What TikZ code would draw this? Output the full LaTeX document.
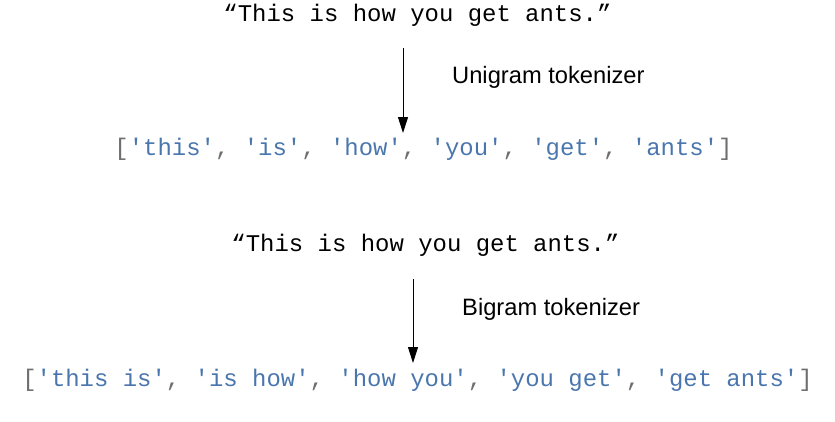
\documentclass[tikz,border=0pt]{standalone}
\usepackage{fontspec}
\setmainfont{Liberation Sans}
\newfontfamily\codefont{Liberation Mono}
\usepackage{xcolor}
\usepackage{tikz}
\usetikzlibrary{arrows.meta,positioning}
\definecolor{strblue}{HTML}{4A76AD}
\definecolor{puncgray}{HTML}{6E6E6E}
\newcommand{\tk}[1]{\textcolor{strblue}{'#1'}}
\newcommand{\pc}[1]{\textcolor{puncgray}{#1}}

\begin{document}
\begin{tikzpicture}[x=1pt,y=-1pt,
  code/.style={inner sep=0pt,anchor=base,font=\codefont\fontsize{23.95}{28}\selectfont},
  lbl/.style={inner sep=0pt,anchor=base west,font=\fontsize{23.7}{28}\selectfont},
  tokarrow/.style={line width=1pt,-{Triangle[length=16pt,width=10pt]}}]
\useasboundingbox (0,0) rectangle (835,421);
% unigram
\node[code] (sent1) at (417.5,21) {“This is how you get ants.”};
\node[lbl] (uni) at (452,83) {Unigram tokenizer};
\node[code] (list1) at (423.5,155) {\pc{[}\tk{this}\pc{, }\tk{is}\pc{, }\tk{how}\pc{, }\tk{you}\pc{, }\tk{get}\pc{, }\tk{ants}\pc{]}};
\coordinate (u1) at (403,48);
\coordinate (u2) at (403,133);
\draw[tokarrow] (u1) -- (u2);
% bigram
\node[code] (sent2) at (425.5,251) {“This is how you get ants.”};
\node[lbl] (bi) at (462,315) {Bigram tokenizer};
\node[code] (list2) at (417.5,386) {\pc{[}\tk{this is}\pc{, }\tk{is how}\pc{, }\tk{how you}\pc{, }\tk{you get}\pc{, }\tk{get ants}\pc{]}};
\coordinate (b1) at (413,279);
\coordinate (b2) at (413,363);
\draw[tokarrow] (b1) -- (b2);
\end{tikzpicture}
\end{document}
